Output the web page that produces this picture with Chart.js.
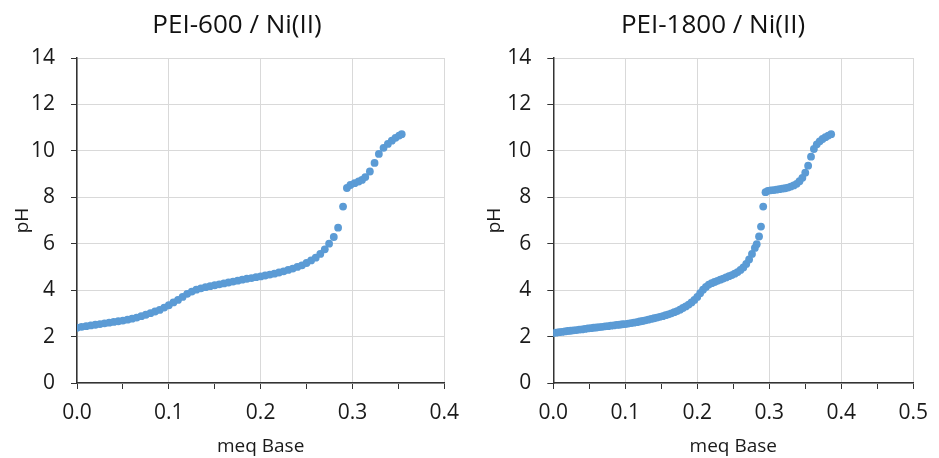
<!DOCTYPE html>
<html>
<head>
<meta charset="utf-8">
<script src="https://cdn.jsdelivr.net/npm/chart.js@4"></script>
<style>
  body { margin: 0; background: #fff; }
  .box { position: absolute; top: 0; height: 458px; }
</style>
</head>
<body>
<div class="box" style="left:0px;width:470px"><canvas id="chart600" width="470" height="458"></canvas></div>
<div class="box" style="left:470px;width:469px"><canvas id="chart1800" width="469" height="458"></canvas></div>
<script>
// PEI-600 / Ni(II)
const pei600Base = [0,0.005,0.01,0.015,0.02,0.025,0.03,0.035,0.04,0.045,0.05,0.055,0.06,0.065,0.07,0.075,0.08,0.085,0.09,0.095,
  0.1,0.105,0.11,0.115,0.12,0.125,0.13,0.135,0.14,0.145,0.15,0.155,0.16,0.165,0.17,0.175,0.18,0.185,0.19,0.195,
  0.2,0.205,0.21,0.215,0.22,0.225,0.23,0.235,0.24,0.245,0.25,0.255,0.26,
  0.265,0.2699,0.2746,0.2797,0.2844,0.2898,0.294,0.2978,0.3024,0.3068,0.3104,0.314,0.319,0.3241,0.3288,0.3339,0.3386,0.3429,0.3469,0.3509,0.3537];
const pei600pH = [2.38,2.42,2.45,2.48,2.51,2.54,2.57,2.60,2.63,2.66,2.69,2.73,2.77,2.82,2.88,2.94,3.01,3.08,3.15,3.25,
  3.35,3.47,3.58,3.71,3.84,3.94,4.02,4.08,4.13,4.17,4.21,4.25,4.29,4.33,4.37,4.41,4.45,4.49,4.52,4.56,
  4.59,4.63,4.67,4.71,4.76,4.81,4.87,4.93,5.00,5.07,5.17,5.28,5.40,
  5.56,5.76,6.00,6.29,6.69,7.60,8.40,8.53,8.61,8.68,8.75,8.87,9.11,9.48,9.87,10.13,10.30,10.44,10.56,10.66,10.72];

// PEI-1800 / Ni(II)
const pei1800Base = [0,0.004,0.008,0.012,0.016,0.02,0.024,0.028,0.032,0.036,0.04,0.044,0.048,0.052,0.056,0.06,0.064,0.068,0.072,0.076,
  0.08,0.084,0.088,0.092,0.096,0.1,0.104,0.108,0.112,0.116,0.12,0.124,0.128,0.132,0.136,0.14,0.144,0.148,0.152,0.156,
  0.16,0.164,0.168,0.172,0.176,0.18,0.184,0.188,0.192,0.196,0.2,0.204,0.208,0.212,0.216,0.22,0.224,0.228,0.232,0.236,
  0.24,0.244,0.248,0.252,0.256,0.26,0.264,0.268,0.272,0.276,0.28,
  0.2826,0.2858,0.2885,0.2916,0.2948,
  0.298,0.302,0.306,0.31,0.314,0.318,0.322,0.326,0.33,0.334,0.338,0.342,0.346,0.35,0.354,0.358,0.362,0.366,0.37,0.374,0.378,0.382,0.386];
const pei1800pH = [2.15,2.17,2.19,2.20,2.22,2.24,2.25,2.27,2.28,2.30,2.31,2.33,2.35,2.36,2.38,2.39,2.41,2.42,2.44,2.45,
  2.47,2.48,2.50,2.51,2.53,2.54,2.56,2.58,2.60,2.62,2.65,2.67,2.70,2.73,2.76,2.79,2.82,2.85,2.88,2.92,
  2.96,3.00,3.05,3.10,3.16,3.23,3.30,3.38,3.47,3.58,3.71,3.87,4.02,4.14,4.24,4.30,4.35,4.40,4.45,4.50,
  4.55,4.60,4.65,4.71,4.78,4.87,4.98,5.13,5.32,5.56,5.82,
  5.98,6.31,6.74,7.60,8.22,
  8.28,8.30,8.31,8.33,8.35,8.37,8.39,8.42,8.46,8.51,8.58,8.69,8.84,9.06,9.36,9.75,10.08,10.28,10.41,10.51,10.59,10.66,10.72];

const pHTicks = [0, 2, 4, 6, 8, 10, 12, 14];

const FONT = "'Open Sans', 'DejaVu Sans', sans-serif";
const GRID = "#d9d9d9";
const AXIS = "#333333";
const TEXT = "#1a1a1a";

function isMajor(v) {
  return Math.round(v * 20) % 2 === 0;
}

function makeChart(id, title, xs, ys, xMax, lay) {
  const points = xs.map((x, i) => ({ x: x, y: ys[i] }));
  return new Chart(document.getElementById(id), {
    type: "scatter",
    data: {
      datasets: [{
        data: points,
        pointRadius: 3.9,
        pointBorderWidth: 0,
        pointBackgroundColor: "#5b9bd5",
      }],
    },
    options: {
      responsive: false,
      animation: false,
      layout: { padding: { left: lay.left, right: lay.right, top: 0, bottom: 0 } },
      plugins: {
        legend: { display: false },
        tooltip: { enabled: false },
        title: {
          display: true,
          text: title,
          color: "#111111",
          font: { family: FONT, size: 26, weight: "normal" },
          padding: { top: 10, bottom: 16.8 },
        },
      },
      scales: {
        x: {
          type: "linear",
          min: 0,
          max: xMax,
          afterFit: (s) => { s.height = 75; },
          ticks: {
            stepSize: 0.05,
            padding: 11,
            color: TEXT,
            font: { family: FONT, size: 21 },
            maxRotation: 0,
            autoSkip: false,
            callback: (v) => (isMajor(v) ? v.toFixed(1) : ""),
          },
          grid: {
            color: (c) => (c.tick && isMajor(c.tick.value) ? GRID : "rgba(0,0,0,0)"),
            tickColor: AXIS,
            tickLength: 6,
          },
          border: { color: AXIS, width: 1.5 },
          title: {
            display: true,
            text: "meq Base",
            color: TEXT,
            font: { family: FONT, size: 19 },
            padding: { top: 0, bottom: 0 },
          },
        },
        y: {
          min: pHTicks[0],
          max: pHTicks[pHTicks.length - 1],
          afterFit: (s) => { s.width = lay.yWidth; },
          ticks: {
            stepSize: 2,
            padding: 16,
            color: TEXT,
            font: { family: FONT, size: 21 },
          },
          grid: { color: GRID, tickColor: AXIS, tickLength: 6 },
          border: { color: AXIS, width: 1.5 },
          title: {
            display: true,
            text: "pH",
            color: TEXT,
            font: { family: FONT, size: 19 },
            padding: { top: lay.pHpad, bottom: 0 },
          },
        },
      },
    },
  });
}

makeChart("chart600", "PEI-600 / Ni(II)", pei600Base, pei600pH, 0.4,
  { left: 28, right: 24, yWidth: 49, pHpad: -16.4 });
makeChart("chart1800", "PEI-1800 / Ni(II)", pei1800Base, pei1800pH, 0.5,
  { left: 34, right: 17, yWidth: 49.3, pHpad: -20.4 });
</script>
</body>
</html>
